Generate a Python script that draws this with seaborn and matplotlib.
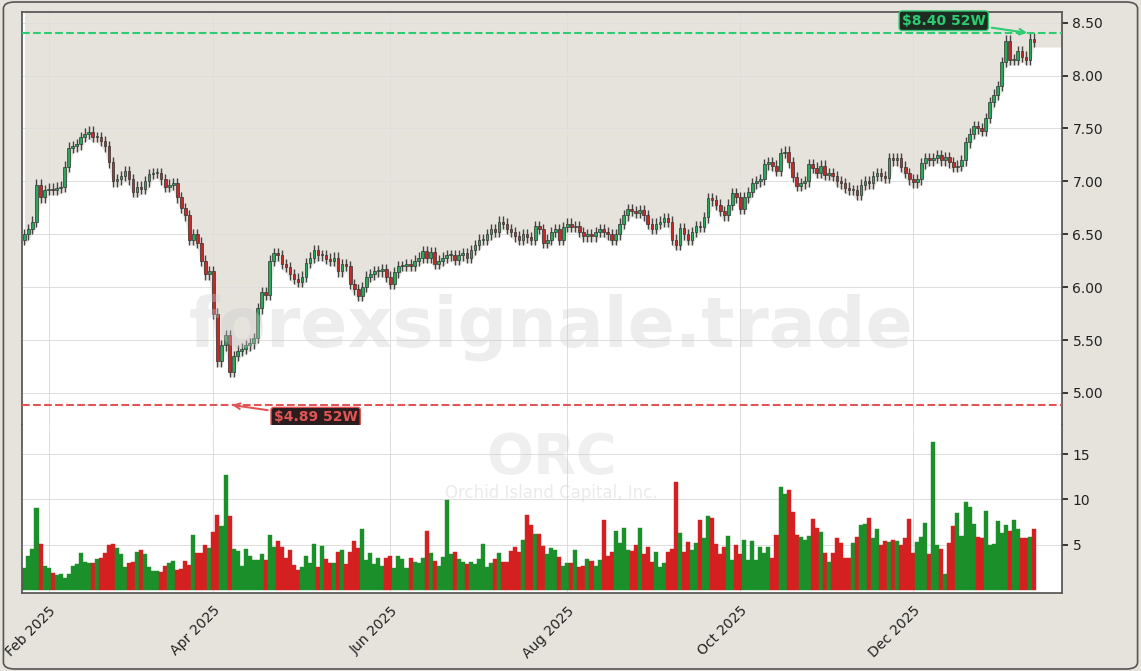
import numpy as np
import pandas as pd
import matplotlib
matplotlib.use("Agg")
import matplotlib.pyplot as plt
from matplotlib.patches import FancyBboxPatch
import seaborn as sns

# daily closes (ORC, Jan 2025 - Jan 2026)
close = [
    6.50, 6.55, 6.62, 6.97, 6.85, 6.92, 6.93, 6.92, 6.94, 6.95, 7.14, 7.32, 7.33, 7.35,
    7.42, 7.45, 7.47, 7.42, 7.42, 7.38, 7.33, 7.18, 7.00, 7.02, 7.05, 7.10, 7.02, 6.90, 6.95,
    6.93, 7.00, 7.07, 7.08, 7.08, 7.02, 6.95, 6.97, 6.98, 6.85, 6.75, 6.68, 6.45, 6.50, 6.42,
    6.25, 6.12, 6.15, 5.75, 5.30, 5.45, 5.55, 5.20, 5.35, 5.40, 5.42, 5.45, 5.47, 5.52, 5.80, 5.95,
    5.93, 6.25, 6.32, 6.30, 6.22, 6.19, 6.12, 6.08, 6.05, 6.10, 6.23, 6.28, 6.35, 6.30, 6.30,
    6.27, 6.25, 6.28, 6.15, 6.22, 6.20, 6.03, 5.98, 5.92, 6.00, 6.10, 6.12, 6.15, 6.15, 6.17, 6.10,
    6.03, 6.14, 6.20, 6.20, 6.22, 6.20, 6.25, 6.28, 6.34, 6.28, 6.33, 6.22, 6.25, 6.28,
    6.30, 6.30, 6.26, 6.30, 6.32, 6.28, 6.35, 6.40, 6.45, 6.45, 6.50, 6.55, 6.52, 6.62, 6.60, 6.55,
    6.52, 6.48, 6.45, 6.50, 6.47, 6.45, 6.58, 6.55, 6.42, 6.45, 6.52, 6.55, 6.45, 6.57,
    6.60, 6.57, 6.58, 6.52, 6.48, 6.50, 6.48, 6.52, 6.55, 6.52, 6.50, 6.45, 6.50, 6.60, 6.68, 6.74,
    6.72, 6.70, 6.73, 6.68, 6.60, 6.55, 6.60, 6.62, 6.65, 6.62, 6.45, 6.40, 6.56, 6.50, 6.45, 6.52,
    6.58, 6.57, 6.66, 6.84, 6.82, 6.78, 6.72, 6.68, 6.78, 6.89, 6.85, 6.74, 6.85, 6.90, 6.98, 7.00,
    7.02, 7.16, 7.18, 7.15, 7.10, 7.27, 7.28, 7.18, 7.04, 6.96, 6.98, 7.00, 7.16, 7.13, 7.08,
    7.15, 7.06, 7.08, 7.05, 7.00, 6.98, 6.94, 6.92, 6.92, 6.87, 6.97, 7.00, 6.98, 7.05, 7.08, 7.05,
    7.03, 7.22, 7.20, 7.22, 7.14, 7.08, 7.02, 6.99, 7.02, 7.17, 7.22, 7.20, 7.22, 7.25, 7.20,
    7.23, 7.18, 7.14, 7.15, 7.20, 7.37, 7.45, 7.52, 7.50, 7.48, 7.60, 7.75, 7.82, 7.90, 8.13, 8.33,
    8.15, 8.15, 8.23, 8.18, 8.15, 8.35, 8.32,
]
first_open = 6.45

# volume in millions
volume = [
    2.4, 3.7, 4.5, 9.1, 5.1, 2.6, 2.4, 1.8, 1.6, 1.7, 1.3, 1.7, 2.6, 2.8, 4.1, 3.1, 3.0, 3.0, 3.4, 3.5,
    4.1, 5.0, 5.1, 4.6, 4.0, 2.5, 3.0, 3.1, 4.2, 4.4, 4.0, 2.5, 2.1, 2.1, 1.9, 2.6, 2.9, 3.2, 2.2, 2.3,
    3.2, 2.7, 6.1, 4.1, 4.1, 4.9, 4.6, 6.4, 8.3, 7.1, 12.7, 8.2, 4.5, 4.3, 2.6, 4.5, 3.7, 3.3, 3.3, 3.9,
    3.3, 6.1, 4.7, 5.4, 4.7, 3.5, 4.4, 2.7, 2.2, 2.5, 3.7, 3.0, 5.1, 2.5, 4.8, 3.4, 3.0, 3.0, 4.2, 4.4,
    2.8, 4.2, 5.4, 4.6, 6.7, 3.3, 4.1, 2.8, 3.5, 2.6, 3.5, 3.7, 2.4, 3.7, 3.4, 2.4, 3.5, 3.1, 2.9, 3.5,
    6.5, 4.1, 3.2, 2.6, 3.6, 9.9, 3.9, 4.2, 3.4, 3.1, 2.8, 3.1, 2.8, 3.4, 5.1, 2.5, 3.0, 3.4, 4.1, 3.1,
    3.1, 4.3, 4.7, 4.2, 5.5, 8.3, 7.2, 6.2, 6.2, 4.8, 4.0, 4.6, 4.4, 3.6, 2.6, 3.0, 3.0, 4.4, 2.5, 2.6,
    3.4, 3.2, 2.6, 3.3, 7.7, 3.7, 4.2, 6.5, 5.2, 6.8, 4.4, 4.3, 4.9, 6.8, 4.0, 4.7, 3.1, 4.2, 2.5, 2.9,
    4.2, 4.5, 11.9, 6.3, 4.2, 5.3, 4.4, 5.2, 7.7, 5.7, 8.2, 8.0, 5.1, 3.9, 4.7, 6.0, 3.3, 5.0, 4.0, 5.5,
    3.3, 5.4, 3.3, 4.7, 4.1, 4.7, 3.5, 6.1, 11.4, 10.6, 11.0, 8.6, 6.1, 5.8, 5.5, 6.0, 7.8, 6.8, 6.4, 4.1,
    3.1, 4.1, 5.7, 5.2, 3.5, 3.5, 5.2, 5.8, 7.2, 7.3, 8.0, 5.7, 6.7, 5.0, 5.4, 5.3, 5.5, 5.4, 4.9, 5.7,
    7.8, 4.1, 5.3, 5.8, 7.4, 4.0, 16.4, 4.9, 4.5, 1.7, 5.2, 7.1, 8.5, 6.0, 9.7, 9.2, 7.3, 5.8, 5.7, 8.7,
    5.0, 5.1, 7.6, 6.3, 7.2, 6.5, 7.7, 6.7, 5.7, 5.7, 5.8, 6.7,
]

n = min(len(close), len(volume))
dates = pd.bdate_range("2025-01-24", periods=n)
df = pd.DataFrame({"date": dates, "close": close[:n], "volume": volume[:n]})
df["x"] = np.arange(n)
df["open"] = df["close"].shift(1).fillna(first_open)
df["up"] = df["close"] >= df["open"]
wick = 0.05
df["high"] = df[["open", "close"]].max(axis=1) + wick
df["low"] = df[["open", "close"]].min(axis=1) - wick

BG = "#e6e3dc"
GREEN = "#27a85a"
RED = "#c62828"
VGREEN = "#1a8f2a"
VRED = "#d42020"

sns.set_theme(style="whitegrid")
plt.rcParams["font.family"] = ["DejaVu Sans"]

fig = plt.figure(figsize=(11.41, 6.71), dpi=100, facecolor=BG)
fig.patches.append(FancyBboxPatch((0.003, 0.003), 0.994, 0.994, boxstyle="round,pad=0,rounding_size=0.01",
                                  transform=fig.transFigure, fc="none", ec="#555555", lw=1.2))
ax = fig.add_axes([0.0193, 0.367, 0.9115, 0.615])
axv = fig.add_axes([0.0193, 0.116, 0.9115, 0.251], sharex=ax)

for a in (ax, axv):
    a.set_facecolor("white")
    a.grid(True, color="#dddddd", lw=0.7)
    a.yaxis.tick_right()
    a.tick_params(axis="y", labelsize=10, colors="#222222", length=4)
    for s in a.spines.values():
        s.set_color("#555555")
ax.spines["bottom"].set_visible(False)
axv.spines["top"].set_visible(False)

x_end = n + 6
# shaded area above the lows
fx = np.append(df["x"].values, x_end)
fl = np.append(df["low"].values, df["low"].values[-1])
ax.fill_between(fx, fl, 8.62, color=BG, zorder=0.5, lw=0)

w = 0.65
for _, r in df.iterrows():
    c = GREEN if r["up"] else RED
    ax.vlines(r["x"], r["low"], r["high"], color="#444444", lw=1, zorder=2)
    lo, hi = min(r["open"], r["close"]), max(r["open"], r["close"])
    ax.bar(r["x"], max(hi - lo, 0.01), bottom=lo, width=w, color=c, edgecolor="#333333", lw=0.5, zorder=3)

vcol = np.where(df["up"], VGREEN, VRED)
axv.bar(df["x"], df["volume"], width=1.0, color=vcol, edgecolor=vcol, lw=0.3, zorder=2)

ax.set_ylim(4.70, 8.60)
ax.set_yticks([5.0, 5.5, 6.0, 6.5, 7.0, 7.5, 8.0, 8.5])
ax.yaxis.set_major_formatter(matplotlib.ticker.FormatStrFormatter("%.2f"))
axv.set_ylim(-0.4, 18.3)
axv.set_yticks([5, 10, 15])
ax.set_xlim(-0.6, x_end)

# month ticks at the first trading day of each month
month_first = df.groupby(df["date"].dt.to_period("M"))["x"].min()
major = [(p, i) for p, i in month_first.items() if p.month in (2, 4, 6, 8, 10, 12) and i > 0]
ax.set_xticks([i for i in month_first.values if i > 0])
axv.set_xticks([i for _, i in major])
axv.set_xticklabels([p.strftime("%b %Y") for p, _ in major], rotation=45, ha="right", rotation_mode="anchor")
plt.setp(ax.get_xticklabels(), visible=False)
ax.tick_params(axis="x", length=0)
axv.tick_params(axis="x", labelsize=10, colors="#222222", length=4)

# 52 week high / low
hi52, lo52 = 8.40, 4.89
ax.axhline(hi52, color="#2ecc71", ls="--", lw=1.5, zorder=4)
ax.axhline(lo52, color="#e05555", ls="--", lw=1.5, zorder=4)
ihi = df["high"].idxmax(); ilo = df["low"].idxmin()
ax.annotate(f"${hi52:.2f} 52W", xy=(df["x"][ihi], hi52), xytext=(-62, 9), textcoords="offset points",
            ha="center", va="center", fontsize=10, fontweight="bold", color="#2ecc71",
            bbox=dict(boxstyle="round,pad=0.2", fc="#1d2b22", ec="#2ecc71", lw=1),
            arrowprops=dict(arrowstyle="->", color="#2ecc71", lw=1.5), zorder=6)
ax.annotate(f"${lo52:.2f} 52W", xy=(df["x"][ilo], lo52), xytext=(62, -9), textcoords="offset points",
            ha="center", va="center", fontsize=10, fontweight="bold", color="#e05555",
            bbox=dict(boxstyle="round,pad=0.2", fc="#2b1d1d", ec="#e05555", lw=1),
            arrowprops=dict(arrowstyle="->", color="#e05555", lw=1.5), zorder=6)

# watermarks
fig.text(0.483, 0.513, "forexsignale.trade", ha="center", va="center", fontsize=50, fontweight="bold",
         color="#cccccc", alpha=0.35, zorder=10)
fig.text(0.483, 0.318, "ORC", ha="center", va="center", fontsize=40, fontweight="bold",
         color="#cccccc", alpha=0.3, zorder=10)
fig.text(0.483, 0.265, "Orchid Island Capital, Inc.", ha="center", va="center", fontsize=12,
         color="#cccccc", alpha=0.4, zorder=10)

fig.savefig("out.png", dpi=100, facecolor=BG)
